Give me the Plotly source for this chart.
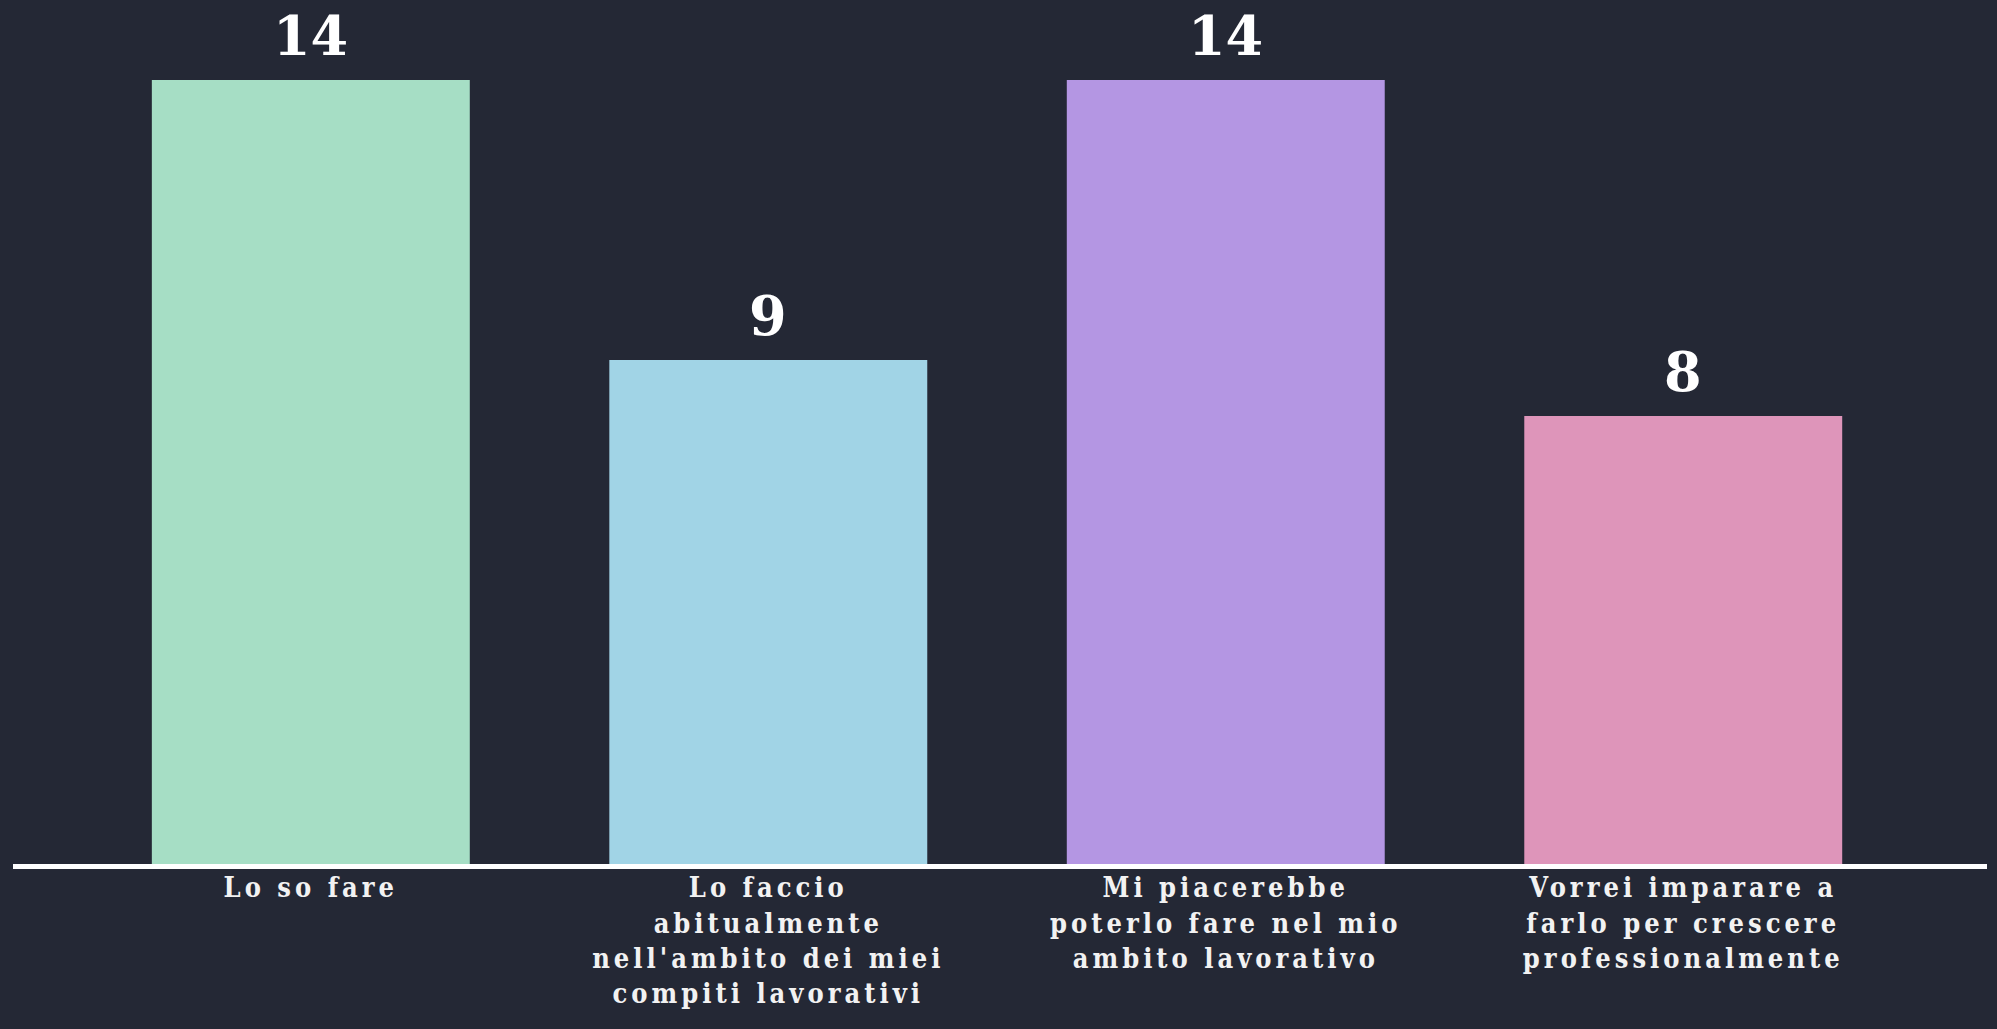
import plotly.graph_objects as go

# dati del grafico
categorie = [
    "Lo so fare",
    "Lo faccio<br>abitualmente<br>nell'ambito dei miei<br>compiti lavorativi",
    "Mi piacerebbe<br>poterlo fare nel mio<br>ambito lavorativo",
    "Vorrei imparare a<br>farlo per crescere<br>professionalmente",
]
valori = [14, 9, 14, 8]
colori = ["#a6dec5", "#a1d4e6", "#b496e3", "#de95ba"]

SFONDO = "#242835"

fig = go.Figure()
fig.add_trace(go.Bar(
    x=list(range(len(valori))),
    y=valori,
    marker=dict(color=colori, line=dict(width=0)),
    hoverinfo="skip",
))

# etichette dei valori sopra le barre
for i, v in enumerate(valori):
    fig.add_annotation(
        x=i, y=v, text=str(v), showarrow=False,
        yanchor="bottom", yshift=10,
        font=dict(family="DejaVu Serif", size=54, color="#ffffff", weight="bold"),
    )

fig.update_layout(
    width=1997,
    height=1029,
    paper_bgcolor=SFONDO,
    plot_bgcolor=SFONDO,
    bargap=0.305,
    showlegend=False,
    margin=dict(l=13, r=10, t=0, b=165),
    font=dict(family="DejaVu Serif", color="#f2f2f2"),
)
fig.update_xaxes(
    range=[-0.651, 3.664],
    tickmode="array",
    tickvals=list(range(len(categorie))),
    ticktext=categorie,
    tickfont=dict(family="DejaVu Serif Condensed", size=27, color="#f2f2f2", weight="bold"),
    showgrid=False,
    zeroline=False,
    showline=True,
    linecolor="#ffffff",
    linewidth=5,
    ticks="",
    ticklabelstandoff=-4,
)
fig.update_yaxes(
    range=[0, 15.43],
    visible=False,
    showgrid=False,
    zeroline=False,
)

# niente margine della pagina, etichette più spaziate
js = """
document.body.style.margin = '0';
document.querySelectorAll('.xtick text').forEach(function(t) {
    t.style.letterSpacing = '4px';
});
"""

fig.write_html("out.html", post_script=js, config={"displayModeBar": False})
